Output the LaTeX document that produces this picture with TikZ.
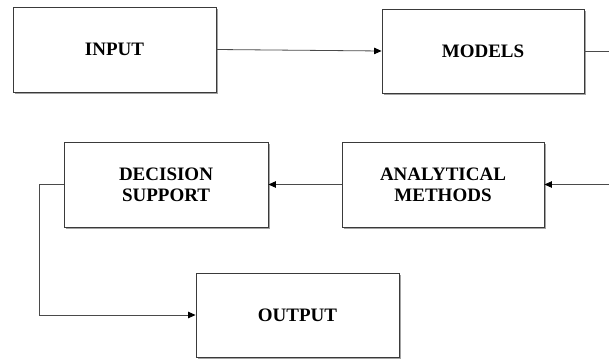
\documentclass[tikz,border=0pt]{standalone}
\usepackage{fontspec}
\setmainfont{Liberation Serif}
\usetikzlibrary{arrows.meta,shadows}
\definecolor{boxline}{HTML}{3A3A3A}
\definecolor{conn}{HTML}{4A4A4A}
\tikzset{
  blk/.style={draw=boxline, line width=0.9pt, fill=white, inner sep=0pt,
    align=center, font=\fontsize{19}{21}\selectfont\bfseries,
    drop shadow={shadow xshift=1.8pt, shadow yshift=-2pt, fill=black!60, opacity=0.6}},
  conline/.style={draw=conn, line width=0.8pt},
  arr/.style={conline, -{Triangle[length=7.5pt,width=6.5pt,fill=black,color=black]}}
}
\begin{document}
\begin{tikzpicture}[x=1pt,y=-1pt]
\useasboundingbox (0,0) rectangle (609,361);
\node[blk, minimum width=203pt, minimum height=85pt] (in) at (114.5,49.5) {INPUT};
\node[blk, minimum width=202pt, minimum height=84pt] (mod) at (483,51) {MODELS};
\node[blk, minimum width=204pt, minimum height=85pt] (dec) at (166,184.5) {DECISION\\SUPPORT};
\node[blk, minimum width=202pt, minimum height=85pt] (ana) at (443,184.5) {ANALYTICAL\\METHODS};
\node[blk, minimum width=203pt, minimum height=84pt] (out) at (297.5,315) {OUTPUT};
\coordinate (e1) at (609,51);
\coordinate (e2) at (609,184.5);
\draw[arr] (in.east) -- (mod.west);
\draw[conline] (mod.east) -- (e1);
\draw[arr] (e2) -- (ana.east);
\draw[arr] (ana.west) -- (dec.east);
\draw[arr] (dec.west) -- ++(-24,0) |- (out.west);
\end{tikzpicture}
\end{document}
